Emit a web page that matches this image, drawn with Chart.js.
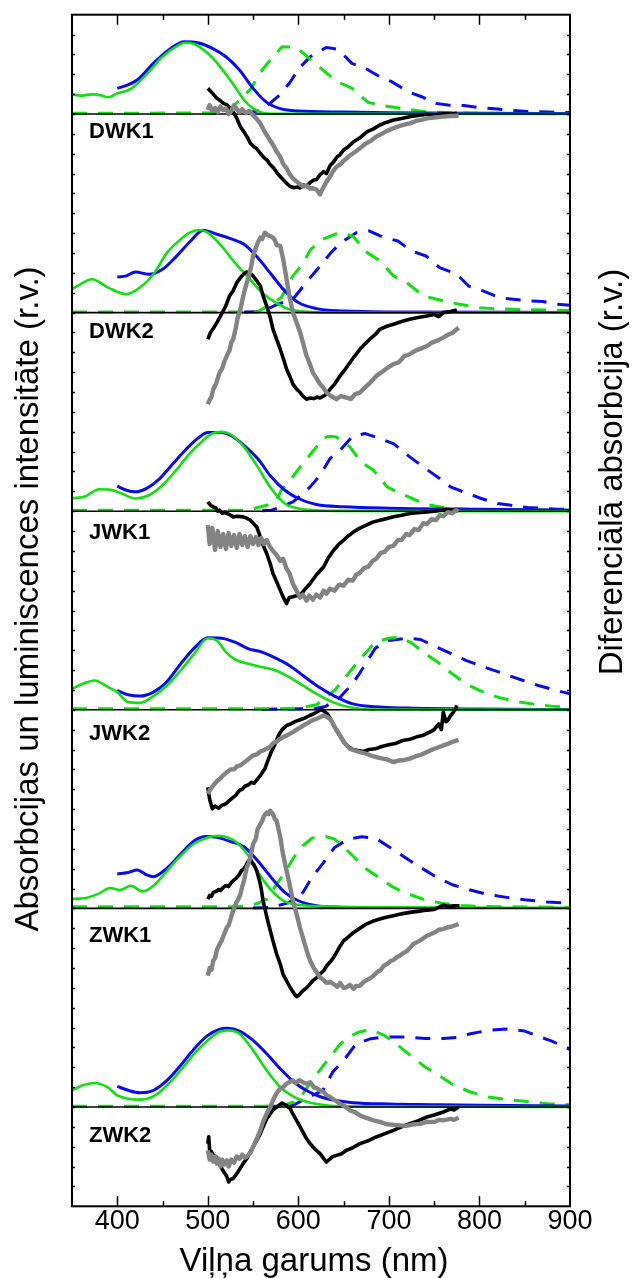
<!DOCTYPE html>
<html>
<head>
<meta charset="utf-8">
<script src="https://cdn.jsdelivr.net/npm/chart.js@4/dist/chart.umd.min.js"></script>
<style>
html,body{margin:0;padding:0;background:#fff;}
#c{display:block;}
</style>
</head>
<body>
<canvas id="c" width="632" height="1278" style="width:632px;height:1278px"></canvas>
<script>
// ---------------- DATA ----------------
const panelNames = ['DWK1','DWK2','JWK1','JWK2','ZWK1','ZWK2'];
const panelBaselines = [11, 9, 7, 5, 3, 1];
const xTickLabels = [400, 500, 600, 700, 800, 900];
const xTitle = 'Viļņa garums (nm)';
const yTitleLeft = 'Absorbcijas un luminiscences intensitāte (r.v.)';
const yTitleRight = 'Diferenciālā absorbcija (r.v.)';

// DWK1
const dwk1GreenAbs = [[350,.198],[360,.185],[368,.195],[375,.198],[383,.185],[390,.168],[400,.208],[415,.252],[430,.376],[450,.577],[465,.678],[475,.718],[485,.705],[500,.611],[515,.46],[530,.275],[540,.141],[550,.057],[560,.013],[575,.003],[650,.002],[900,0]];
const dwk1BlueAbs = [[400,.258],[411,.29],[422,.342],[441,.52],[459,.66],[474,.728],[490,.715],[505,.661],[520,.577],[535,.443],[550,.258],[565,.117],[580,.054],[600,.03],[650,.02],[700,.013],[800,.007],[900,.004]];
const dwk1GreenLum = [[350,.007],[506,.01],[521,.02],[539,.174],[548,.258],[557,.41],[566,.51],[582,.678],[598,.67],[614,.544],[627,.443],[643,.326],[659,.26],[677,.117],[690,.09],[718,.05],[740,.023],[770,.013],[800,.007],[900,.003]];
const dwk1BlueLum = [[540,.005],[560,.04],[579,.19],[590,.31],[601,.46],[613,.577],[631,.671],[644,.651],[659,.51],[674,.46],[690,.376],[703,.326],[721,.225],[736,.174],[752,.107],[765,.09],[783,.085],[798,.067],[820,.05],[831,.04],[853,.025],[883,.017],[900,.015]];
const dwk1Black = [[500,.258],[503,.23],[506,.2],[510,.158],[513,.14],[517,.11],[521,.091],[525,.06],[528,.023],[532,-.044],[536,-.128],[540,-.18],[544,-.24],[547,-.295],[551,-.33],[554,-.35],[558,-.396],[562,-.44],[566,-.47],[569,-.51],[573,-.547],[577,-.6],[580,-.63],[584,-.67],[587,-.698],[591,-.73],[595,-.742],[599,-.735],[602,-.745],[606,-.715],[609,-.73],[613,-.69],[617,-.664],[620,-.66],[624,-.61],[628,-.581],[631,-.6],[635,-.52],[639,-.48],[643,-.43],[646,-.41],[650,-.362],[655,-.33],[661,-.279],[668,-.24],[676,-.178],[683,-.15],[690,-.111],[697,-.085],[705,-.06],[714,-.045],[723,-.027],[732,-.015],[742,-.003],[750,-.01],[760,.003],[768,0],[775,.007]];
const dwk1Gray = [[500,.04],[502,.09],[505,.03],[508,.06],[511,.02],[514,.075],[517,.04],[520,.057],[523,0],[526,.03],[529,.09],[532,.05],[535,.02],[538,.047],[542,.01],[546,.03],[550,-.01],[554,-.05],[558,-.094],[561,-.15],[565,-.211],[569,-.27],[572,-.31],[576,-.379],[580,-.43],[583,-.5],[587,-.547],[590,-.6],[594,-.648],[598,-.68],[601,-.7],[605,-.732],[609,-.72],[613,-.75],[616,-.748],[620,-.76],[624,-.81],[627,-.75],[631,-.684],[635,-.63],[638,-.58],[642,-.533],[646,-.51],[650,-.47],[653,-.45],[658,-.41],[663,-.38],[668,-.346],[674,-.3],[680,-.27],[686,-.228],[692,-.2],[698,-.17],[705,-.144],[712,-.12],[718,-.105],[723,-.094],[730,-.07],[736,-.06],[742,-.044],[750,-.035],[760,-.027],[768,-.02],[777,-.017]];

// DWK2
const dwk2GreenAbs = [[350,.235],[360,.29],[372,.336],[390,.252],[410,.185],[425,.252],[440,.386],[455,.604],[470,.738],[480,.805],[490,.832],[500,.805],[515,.671],[530,.5],[545,.352],[560,.201],[575,.101],[590,.034],[610,.007],[630,0],[900,0]];
const dwk2BlueAbs = [[400,.359],[410,.37],[420,.409],[435,.386],[450,.436],[465,.564],[480,.711],[495,.829],[510,.789],[525,.745],[540,.688],[555,.554],[570,.386],[585,.218],[600,.101],[620,.04],[650,.017],[700,.007],[900,.002]];
const dwk2GreenLum = [[350,.007],[555,.007],[572,.1],[581,.15],[594,.37],[603,.47],[614,.64],[627,.74],[645,.805],[660,.772],[676,.604],[690,.52],[705,.37],[720,.3],[738,.168],[753,.134],[769,.1],[778,.084],[800,.05],[815,.04],[850,.03],[900,.02]];
const dwk2BlueLum = [[540,.005],[560,.01],[577,.084],[594,.134],[610,.32],[621,.436],[636,.604],[647,.705],[664,.805],[678,.822],[695,.755],[710,.721],[725,.62],[741,.57],[756,.453],[775,.386],[788,.268],[804,.218],[822,.151],[837,.134],[855,.117],[870,.111],[885,.084],[900,.074]];
const dwk2Black = [[500,-.268],[503,-.2],[506,-.16],[510,-.101],[513,-.05],[517,.017],[520,.07],[524,.168],[528,.22],[532,.302],[535,.34],[539,.386],[543,.409],[546,.4],[550,.369],[554,.32],[558,.268],[561,.17],[565,.067],[569,-.05],[572,-.168],[576,-.27],[580,-.369],[584,-.48],[587,-.57],[591,-.65],[594,-.72],[598,-.77],[602,-.805],[605,-.84],[609,-.872],[613,-.86],[617,-.866],[621,-.85],[624,-.86],[628,-.839],[631,-.82],[635,-.772],[640,-.72],[646,-.638],[651,-.58],[657,-.503],[662,-.44],[668,-.369],[673,-.32],[679,-.268],[685,-.22],[690,-.168],[697,-.14],[705,-.117],[714,-.09],[723,-.067],[732,-.05],[742,-.034],[750,-.02],[755,-.04],[760,0],[768,.01],[775,.027]];
const dwk2Gray = [[500,-.923],[502,-.88],[504,-.85],[506,-.772],[509,-.72],[511,-.66],[513,-.604],[516,-.56],[518,-.5],[521,-.436],[524,-.38],[526,-.3],[528,-.268],[531,-.15],[533,-.05],[536,.034],[538,.12],[540,.2],[543,.302],[545,.35],[548,.47],[550,.57],[553,.65],[555,.7],[558,.755],[560,.74],[563,.805],[566,.78],[569,.77],[572,.755],[574,.73],[576,.68],[580,.671],[583,.55],[587,.336],[590,.17],[594,0],[598,-.1],[602,-.201],[605,-.3],[609,-.436],[612,-.5],[616,-.604],[620,-.66],[624,-.721],[627,-.75],[631,-.805],[636,-.84],[642,-.872],[647,-.84],[653,-.856],[658,-.87],[663,-.82],[668,-.805],[674,-.75],[680,-.7],[686,-.638],[692,-.6],[698,-.56],[705,-.52],[711,-.5],[717,-.44],[723,-.419],[730,-.38],[736,-.36],[742,-.336],[748,-.3],[754,-.28],[760,-.252],[766,-.22],[771,-.2],[777,-.151]];

// JWK1
const jwk1GreenAbs = [[350,.128],[365,.151],[380,.221],[395,.211],[405,.178],[420,.128],[435,.161],[450,.262],[465,.413],[480,.581],[495,.715],[505,.782],[515,.799],[525,.775],[540,.648],[555,.446],[570,.228],[585,.077],[600,.027],[620,.01],[650,.003],[900,0]];
const jwk1BlueAbs = [[400,.252],[410,.211],[420,.195],[432,.228],[445,.312],[460,.463],[475,.614],[490,.742],[500,.792],[515,.792],[525,.765],[540,.664],[555,.53],[570,.346],[585,.211],[600,.128],[620,.067],[650,.044],[700,.03],[800,.02],[900,.01]];
const jwk1GreenLum = [[350,.01],[540,.01],[548,.017],[555,.037],[565,.06],[576,.11],[581,.21],[590,.3],[602,.446],[617,.614],[628,.74],[635,.755],[642,.748],[657,.648],[669,.497],[683,.413],[698,.245],[713,.178],[730,.111],[742,.067],[768,.027],[794,.017],[900,.01]];
const jwk1BlueLum = [[560,.005],[570,.01],[581,.044],[594,.094],[603,.16],[613,.245],[624,.362],[635,.53],[646,.614],[660,.755],[674,.782],[690,.732],[705,.681],[723,.547],[738,.446],[756,.329],[768,.245],[787,.178],[802,.128],[820,.077],[835,.06],[853,.037],[868,.03],[886,.02],[900,.02]];
const jwk1Black = [[500,.094],[503,.06],[506,.044],[509,.03],[511,0],[513,.01],[516,-.02],[519,-.01],[521,-.023],[525,-.04],[528,-.057],[533,-.05],[539,-.057],[543,-.07],[547,-.091],[550,-.12],[554,-.158],[558,-.258],[561,-.34],[565,-.426],[569,-.53],[572,-.628],[576,-.71],[580,-.795],[583,-.86],[587,-.93],[590,-.87],[594,-.862],[598,-.85],[602,-.846],[607,-.79],[613,-.728],[620,-.64],[628,-.56],[633,-.47],[639,-.393],[644,-.34],[650,-.292],[655,-.25],[661,-.208],[668,-.17],[675,-.141],[682,-.11],[690,-.091],[697,-.075],[705,-.057],[714,-.04],[723,-.023],[732,-.015],[742,-.007],[750,0],[757,.01],[763,.017],[770,.015],[775,.017]];
const jwk1Gray = [[500,-.14],[502,-.33],[505,-.17],[508,-.39],[511,-.2],[514,-.36],[517,-.23],[520,-.38],[523,-.22],[526,-.35],[529,-.24],[532,-.37],[535,-.23],[538,-.34],[541,-.25],[544,-.36],[547,-.25],[550,-.33],[553,-.26],[556,-.34],[559,-.27],[562,-.33],[565,-.29],[568,-.35],[572,-.4],[576,-.44],[580,-.5],[583,-.48],[587,-.58],[590,-.62],[594,-.73],[598,-.8],[602,-.87],[605,-.84],[609,-.9],[612,-.85],[616,-.89],[620,-.84],[624,-.87],[628,-.8],[631,-.83],[635,-.78],[640,-.8],[645,-.74],[650,-.75],[655,-.69],[660,-.7],[664,-.64],[668,-.62],[673,-.57],[677,-.56],[682,-.5],[686,-.48],[691,-.42],[695,-.41],[700,-.36],[705,-.35],[710,-.29],[714,-.29],[719,-.23],[723,-.24],[728,-.18],[733,-.19],[738,-.12],[742,-.13],[747,-.08],[752,-.09],[756,-.04],[760,-.05],[765,-.01],[770,-.02],[774,.01],[777,0]];

// JWK2
const jwk2GreenAbs = [[350,.211],[362,.262],[375,.295],[390,.228],[400,.178],[412,.077],[425,.07],[440,.138],[455,.245],[470,.396],[485,.564],[500,.721],[510,.698],[520,.581],[530,.507],[545,.463],[560,.43],[575,.396],[590,.329],[605,.245],[620,.161],[640,.07],[660,.02],[680,.003],[900,0]];
const jwk2BlueAbs = [[400,.195],[412,.151],[425,.138],[440,.178],[455,.285],[470,.463],[485,.621],[500,.725],[515,.721],[530,.681],[545,.614],[560,.581],[575,.52],[590,.446],[605,.346],[620,.245],[640,.138],[660,.06],[685,.03],[720,.017],[800,.007],[900,.003]];
const jwk2GreenLum = [[350,.01],[580,.01],[600,.017],[620,.05],[640,.195],[655,.362],[670,.53],[685,.681],[700,.721],[712,.732],[725,.674],[740,.564],[755,.473],[770,.362],[785,.262],[800,.195],[820,.128],[840,.084],[860,.057],[880,.037],[900,.023]];
const jwk2BlueLum = [[560,.005],[600,.01],[620,.015],[630,.034],[645,.117],[660,.262],[672,.43],[685,.621],[700,.698],[720,.721],[735,.708],[750,.641],[765,.581],[785,.497],[805,.43],[825,.369],[845,.305],[865,.245],[885,.195],[900,.161]];
const jwk2Black = [[500,-.78],[502,-.9],[505,-.997],[508,-.97],[512,-.99],[516,-.96],[520,-.946],[523,-.92],[527,-.889],[531,-.86],[535,-.812],[538,-.8],[541,-.77],[545,-.755],[548,-.73],[551,-.74],[555,-.695],[559,-.65],[563,-.594],[566,-.52],[570,-.426],[574,-.35],[578,-.258],[582,-.2],[587,-.158],[592,-.14],[597,-.117],[602,-.1],[607,-.084],[612,-.06],[617,-.04],[621,-.02],[625,.003],[628,-.01],[632,-.04],[636,-.1],[640,-.174],[645,-.25],[650,-.326],[655,-.37],[660,-.399],[666,-.41],[672,-.419],[678,-.4],[685,-.393],[692,-.37],[700,-.352],[707,-.34],[715,-.309],[722,-.3],[730,-.275],[737,-.26],[745,-.225],[750,-.2],[755,-.141],[758,-.2],[760,-.023],[763,-.12],[765,-.107],[768,-.06],[770,-.04],[773,0],[775,.044]];
const jwk2Gray = [[500,-.846],[503,-.8],[506,-.762],[510,-.72],[514,-.69],[517,-.66],[521,-.628],[525,-.6],[529,-.6],[532,-.57],[536,-.56],[540,-.53],[543,-.51],[547,-.48],[550,-.46],[554,-.45],[558,-.42],[561,-.41],[565,-.393],[569,-.37],[573,-.33],[576,-.32],[580,-.292],[584,-.27],[587,-.26],[591,-.24],[594,-.225],[598,-.2],[602,-.18],[605,-.16],[609,-.141],[613,-.12],[617,-.1],[620,-.09],[624,-.074],[628,-.057],[631,-.07],[635,-.091],[640,-.17],[646,-.258],[651,-.33],[657,-.393],[662,-.41],[668,-.426],[674,-.44],[680,-.46],[686,-.477],[692,-.49],[698,-.5],[705,-.527],[711,-.51],[717,-.505],[723,-.493],[729,-.47],[736,-.45],[742,-.426],[748,-.4],[754,-.38],[760,-.359],[766,-.34],[771,-.32],[777,-.302]];

// ZWK1
const zwk1GreenAbs = [[350,.094],[365,.104],[380,.151],[392,.205],[403,.185],[415,.228],[428,.171],[440,.228],[455,.379],[470,.53],[485,.654],[500,.715],[512,.732],[522,.715],[532,.664],[545,.53],[558,.329],[570,.185],[585,.07],[600,.037],[650,.017],[700,.01],[900,.005]];
const zwk1BlueAbs = [[400,.346],[412,.362],[422,.386],[432,.339],[440,.319],[455,.406],[470,.547],[485,.681],[498,.725],[510,.715],[525,.674],[540,.621],[555,.48],[570,.312],[585,.161],[600,.077],[620,.027],[650,.01]];
const zwk1GreenLum = [[350,.017],[530,.017],[545,.027],[555,.05],[565,.094],[575,.228],[585,.362],[595,.513],[605,.631],[615,.708],[630,.725],[640,.698],[650,.621],[660,.53],[675,.396],[690,.305],[705,.211],[720,.151],[740,.084],[760,.05],[780,.03],[800,.02],[900,.01]];
const zwk1BlueLum = [[550,.005],[570,.01],[590,.06],[605,.161],[615,.312],[630,.487],[640,.614],[655,.698],[670,.721],[685,.708],[700,.621],[715,.53],[730,.44],[750,.329],[770,.238],[790,.185],[810,.138],[830,.111],[850,.087],[875,.064],[900,.054]];
const zwk1Black = [[500,.094],[502,.13],[504,.12],[506,.161],[509,.17],[512,.19],[514,.18],[517,.211],[520,.23],[523,.22],[526,.26],[528,.279],[531,.3],[534,.33],[537,.379],[540,.4],[542,.43],[545,.48],[547,.497],[549,.46],[551,.44],[554,.379],[557,.28],[559,.2],[561,.077],[564,-.04],[566,-.12],[569,-.225],[572,-.33],[576,-.46],[580,-.56],[583,-.661],[587,-.73],[591,-.795],[594,-.84],[598,-.889],[601,-.87],[605,-.829],[609,-.8],[612,-.77],[616,-.728],[620,-.7],[624,-.66],[628,-.628],[632,-.57],[635,-.54],[639,-.493],[643,-.43],[646,-.38],[650,-.326],[655,-.29],[661,-.242],[668,-.2],[675,-.158],[682,-.13],[690,-.107],[697,-.09],[705,-.074],[714,-.055],[723,-.04],[732,-.03],[742,-.017],[750,-.01],[755,.01],[760,.034],[765,.02],[770,.025],[778,.027]];
const zwk1Gray = [[500,-.678],[502,-.6],[504,-.62],[506,-.527],[508,-.5],[510,-.42],[513,-.359],[515,-.33],[518,-.26],[521,-.191],[523,-.17],[526,-.08],[528,-.023],[531,.05],[533,.08],[536,.144],[538,.22],[540,.28],[543,.413],[545,.45],[548,.56],[550,.649],[553,.7],[555,.8],[558,.849],[560,.88],[562,.93],[565,.966],[567,.95],[569,.983],[572,.95],[574,.9],[576,.883],[580,.72],[583,.547],[587,.38],[591,.211],[594,.08],[598,-.057],[602,-.2],[606,-.326],[609,-.42],[613,-.527],[617,-.6],[620,-.64],[624,-.695],[628,-.72],[631,-.75],[635,-.74],[639,-.762],[643,-.79],[646,-.75],[650,-.8],[653,-.795],[657,-.77],[661,-.81],[664,-.78],[668,-.779],[672,-.74],[676,-.72],[680,-.7],[683,-.678],[687,-.64],[691,-.62],[694,-.58],[698,-.56],[702,-.53],[705,-.52],[709,-.49],[712,-.477],[716,-.45],[720,-.43],[723,-.4],[727,-.359],[731,-.34],[735,-.32],[738,-.3],[742,-.275],[746,-.26],[751,-.24],[755,-.215],[760,-.208],[765,-.19],[770,-.18],[777,-.158]];

// ZWK2
const zwk2GreenAbs = [[350,.168],[362,.218],[375,.242],[390,.195],[400,.117],[412,.084],[425,.074],[440,.107],[455,.218],[470,.369],[485,.537],[500,.671],[512,.755],[522,.772],[535,.738],[550,.57],[565,.369],[580,.201],[595,.101],[610,.05],[630,.017],[650,.007],[900,0]];
const zwk2BlueAbs = [[400,.208],[412,.168],[425,.144],[440,.168],[455,.268],[470,.419],[485,.587],[500,.721],[512,.779],[522,.792],[535,.765],[550,.671],[565,.537],[580,.386],[595,.252],[610,.161],[625,.101],[640,.067],[660,.044],[700,.03],[750,.023],[800,.017],[900,.01]];
const zwk2GreenLum = [[350,.007],[580,.007],[595,.05],[605,.134],[615,.268],[625,.386],[635,.503],[645,.621],[655,.705],[667,.755],[680,.779],[695,.721],[710,.621],[725,.51],[740,.403],[755,.319],[770,.228],[790,.151],[810,.101],[830,.074],[850,.057],[875,.034],[900,.023]];
const zwk2BlueLum = [[560,.005],[582,.01],[594,.017],[612,.1],[627,.168],[638,.352],[650,.47],[664,.638],[680,.688],[696,.705],[708,.705],[720,.705],[740,.69],[760,.69],[775,.7],[790,.738],[810,.772],[830,.785],[850,.765],[865,.711],[880,.664],[900,.577]];
const zwk2Black = [[500,-.369],[501,-.3],[502,-.436],[504,-.45],[506,-.487],[509,-.5],[511,-.54],[513,-.57],[516,-.63],[519,-.671],[521,-.7],[523,-.755],[525,-.73],[528,-.72],[532,-.671],[535,-.63],[539,-.57],[543,-.52],[547,-.453],[550,-.4],[554,-.336],[558,-.27],[561,-.201],[565,-.12],[569,-.067],[572,-.03],[576,0],[579,.02],[582,.04],[586,.02],[591,-.017],[594,-.07],[598,-.134],[602,-.2],[606,-.268],[609,-.32],[613,-.369],[618,-.42],[624,-.47],[628,-.52],[631,-.554],[634,-.53],[638,-.5],[642,-.487],[648,-.47],[653,-.436],[660,-.41],[668,-.369],[677,-.34],[686,-.302],[695,-.27],[705,-.235],[714,-.2],[723,-.168],[732,-.14],[742,-.101],[750,-.08],[760,-.05],[768,-.02],[772,-.03],[777,0]];
const zwk2Gray = [[500,-.436],[502,-.53],[504,-.48],[506,-.55],[508,-.5],[510,-.57],[512,-.52],[514,-.6],[516,-.53],[518,-.58],[521,-.537],[523,-.6],[526,-.53],[529,-.56],[532,-.5],[535,-.52],[538,-.48],[541,-.51],[543,-.503],[547,-.46],[550,-.403],[554,-.32],[558,-.235],[561,-.15],[565,-.067],[569,0],[572,.067],[576,.14],[580,.185],[583,.2],[587,.235],[590,.25],[594,.268],[597,.24],[601,.27],[605,.25],[609,.235],[613,.25],[617,.2],[620,.19],[624,.168],[628,.15],[631,.12],[635,.101],[640,.07],[646,.034],[651,.01],[657,-.034],[662,-.05],[668,-.084],[675,-.11],[683,-.134],[690,-.15],[698,-.174],[705,-.18],[712,-.185],[719,-.19],[727,-.174],[734,-.17],[742,-.151],[750,-.15],[755,-.13],[760,-.134],[768,-.12],[772,-.13],[777,-.107]];

const baselineSegment = [[350,0],[900,0]];

const greenAbs = [dwk1GreenAbs, dwk2GreenAbs, jwk1GreenAbs, jwk2GreenAbs, zwk1GreenAbs, zwk2GreenAbs];
const blueAbs = [dwk1BlueAbs, dwk2BlueAbs, jwk1BlueAbs, jwk2BlueAbs, zwk1BlueAbs, zwk2BlueAbs];
const greenLum = [dwk1GreenLum, dwk2GreenLum, jwk1GreenLum, jwk2GreenLum, zwk1GreenLum, zwk2GreenLum];
const blueLum = [dwk1BlueLum, dwk2BlueLum, jwk1BlueLum, jwk2BlueLum, zwk1BlueLum, zwk2BlueLum];
const blackDiff = [dwk1Black, dwk2Black, jwk1Black, jwk2Black, zwk1Black, zwk2Black];
const grayDiff = [dwk1Gray, dwk2Gray, jwk1Gray, jwk2Gray, zwk1Gray, zwk2Gray];

// ---------------- STYLE ----------------
const FONT = "'Liberation Sans', Arial, Helvetica, sans-serif";
const GREEN = '#10e010';
const BLUE = '#0a0aee';
const S = {
  blueLum:  {color: BLUE,  width: 3,   dash: [15, 11], tension: 0, order: 7},
  greenLum: {color: GREEN, width: 3,   dash: [15, 11], tension: 0, order: 6},
  blueAbs:  {color: BLUE,  width: 3,   dash: [], tension: 0.4, order: 5, smooth: true},
  greenAbs: {color: GREEN, width: 2.6, dash: [], tension: 0.4, order: 4, smooth: true},
  base:     {color: '#000', width: 1.6, dash: [], tension: 0, order: 3},
  black:    {color: '#000', width: 3.6, dash: [], tension: 0, order: 2},
  gray:     {color: '#838383', width: 4.4, dash: [], tension: 0, order: 1}
};
const labelOffsetsPx = [17.5, 19, 21.5, 24.5, 27.5, 28.5];

const datasets = [];
panelNames.forEach((name, i) => {
  const b = panelBaselines[i];
  const add = (arr, st) => datasets.push({
    data: arr.map(([x, v]) => ({x: x, y: v + b})),
    borderColor: st.color,
    borderWidth: st.width,
    borderDash: st.dash,
    tension: st.tension,
    cubicInterpolationMode: st.smooth ? 'monotone' : 'default',
    pointRadius: 0,
    fill: false,
    order: st.order,
    borderJoinStyle: 'round',
    borderCapStyle: 'butt'
  });
  add(blueLum[i], S.blueLum);
  add(greenLum[i], S.greenLum);
  add(blueAbs[i], S.blueAbs);
  add(greenAbs[i], S.greenAbs);
  add(baselineSegment, S.base);
  add(blackDiff[i], S.black);
  add(grayDiff[i], S.gray);
});

const decor = {
  id: 'decor',
  afterDatasetsDraw(chart) {
    const {ctx, chartArea: a, scales} = chart;
    const x = scales.x, y = scales.y;
    ctx.save();
    ctx.strokeStyle = '#000';
    ctx.lineWidth = 1.5;
    ctx.beginPath();
    for (let v = 400; v < 900; v += 50) {
      const px = Math.round(x.getPixelForValue(v)) + 0.5;
      const len = v % 100 === 0 ? 10 : 5;
      ctx.moveTo(px, a.bottom); ctx.lineTo(px, a.bottom - len);
      ctx.moveTo(px, a.top); ctx.lineTo(px, a.top + len);
    }
    for (let k = 1; k < 60; k++) {
      const py = Math.round(y.getPixelForValue(k * 0.2)) + 0.5;
      ctx.moveTo(a.left, py); ctx.lineTo(a.left + 3, py);
      ctx.moveTo(a.right, py); ctx.lineTo(a.right - 3, py);
    }
    ctx.stroke();
    ctx.lineWidth = 2;
    ctx.strokeRect(a.left, a.top, a.right - a.left, a.bottom - a.top);
    ctx.fillStyle = '#000';
    ctx.font = 'bold 22px ' + FONT;
    ctx.textAlign = 'left';
    ctx.textBaseline = 'middle';
    panelNames.forEach((n, i) => {
      ctx.fillText(n, 89, y.getPixelForValue(panelBaselines[i]) + labelOffsetsPx[i]);
    });
    ctx.font = '33px ' + FONT;
    ctx.textAlign = 'center';
    ctx.textBaseline = 'alphabetic';
    ctx.fillText(xTitle, 314, 1271);
    ctx.save();
    ctx.translate(38, 599);
    ctx.rotate(-Math.PI / 2);
    ctx.fillText(yTitleLeft, 0, 0);
    ctx.restore();
    ctx.save();
    ctx.translate(622, 472);
    ctx.rotate(-Math.PI / 2);
    ctx.fillText(yTitleRight, 0, 0);
    ctx.restore();
    ctx.restore();
  }
};

new Chart(document.getElementById('c'), {
  type: 'line',
  data: {datasets},
  options: {
    responsive: false,
    animation: false,
    devicePixelRatio: 1,
    layout: {padding: {left: 72, right: 62, top: 14.7, bottom: 0}},
    plugins: {legend: {display: false}, tooltip: {enabled: false}},
    scales: {
      x: {
        type: 'linear', min: 350, max: 900, position: 'bottom',
        afterFit(s) { s.height = 71.7; },
        grid: {display: false, drawTicks: false},
        border: {display: false},
        ticks: {
          stepSize: 50, autoSkip: false, maxRotation: 0, minRotation: 0, padding: 2,
          color: '#000', font: {family: FONT, size: 27, lineHeight: 1},
          callback: (v) => xTickLabels.includes(v) ? String(v) : ''
        }
      },
      y: {type: 'linear', min: 0, max: 12, display: false}
    }
  },
  plugins: [decor]
});
</script>
</body>
</html>
